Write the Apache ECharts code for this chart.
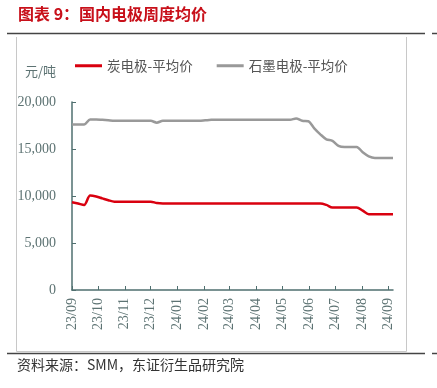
<!DOCTYPE html>
<html>
<head>
<meta charset="utf-8">
<script src="https://cdn.jsdelivr.net/npm/echarts@6/dist/echarts.min.js"></script>
<style>html,body{margin:0;padding:0;background:#fff}#c{width:437px;height:388px}</style>
</head>
<body>
<div id="c"></div>
<script>
// Weekly observation dates (every 7 days from 2023-09-01)
const startDate = '2023-09-01';
const endDate = '2024-09-06';
const seriesNames = ['炭电极-平均价', '石墨电极-平均价'];
// 炭电极 weekly average price (元/吨)
const carbonPrice = [
  9330, 9200, 9050, 10050, 9950, 9750, 9550, 9400, 9400, 9400,
  9400, 9400, 9400, 9400, 9250, 9200, 9200, 9200, 9200, 9200,
  9200, 9200, 9200, 9200, 9200, 9200, 9200, 9200, 9200, 9200,
  9200, 9200, 9200, 9200, 9200, 9200, 9200, 9200, 9200, 9200,
  9200, 9200, 9050, 8780, 8780, 8780, 8780, 8780, 8440, 8070,
  8070, 8070, 8070, 8070
];
// 石墨电极 weekly average price (元/吨)
const graphitePrice = [
  17600, 17600, 17600, 18150, 18150, 18100, 18050, 18000, 18000, 18000,
  18000, 18000, 18000, 18000, 17800, 18000, 18000, 18000, 18000, 18000,
  18000, 18000, 18050, 18100, 18100, 18100, 18100, 18100, 18100, 18100,
  18100, 18100, 18100, 18100, 18100, 18100, 18100, 18250, 18000, 17950,
  17200, 16560, 16030, 15870, 15340, 15220, 15220, 15220, 14650, 14220,
  14050, 14050, 14050, 14050
];
const yTicks = [0, 5000, 10000, 15000, 20000];

function fmt(d){const m=d.getMonth()+1, day=d.getDate();return d.getFullYear()+'-'+(m<10?'0':'')+m+'-'+(day<10?'0':'')+day;}
const days = [];
for (let d = new Date(startDate+'T00:00:00'); fmt(d) <= endDate; d.setDate(d.getDate()+1)) days.push(fmt(d));
const weekDates = [];
for (let i = 0; i < carbonPrice.length; i++) weekDates.push(days[i*7]);

const isMonthStart = (idx, val) => val.slice(8) === '01';
const axisColor = '#4f6f6f';
const labelColor = '#5d7373';

const chart = echarts.init(document.getElementById('c'), null, {renderer:'canvas'});
chart.setOption({
  animation: false,
  textStyle: {fontFamily: '"Liberation Serif", "Noto Sans CJK SC", serif'},
  grid: {left: 72, right: 44, top: 102, bottom: 98},
  legend: {
    left: 70, top: 54, itemWidth: 27, itemHeight: 3, itemGap: 24, icon: 'rect',
    textStyle: {fontFamily: '"Noto Sans CJK SC", sans-serif', fontSize: 13.5, color: '#555'},
    data: seriesNames
  },
  xAxis: {
    type: 'category', data: days, boundaryGap: false,
    axisLine: {lineStyle: {color: axisColor, width: 1.5}},
    axisTick: {show: true, inside: true, length: 4, interval: isMonthStart, lineStyle: {color: axisColor}},
    axisLabel: {interval: isMonthStart, rotate: 90, color: labelColor, fontSize: 14, margin: 8,
      fontFamily: '"Liberation Serif", serif',
      formatter: v => v.slice(2,4) + '/' + v.slice(5,7)},
    splitLine: {show: false}
  },
  yAxis: {
    type: 'value', min: yTicks[0], max: yTicks[yTicks.length-1], interval: 5000,
    axisLine: {show: true, lineStyle: {color: axisColor, width: 1.5}},
    axisTick: {show: true, inside: true, length: 4, lineStyle: {color: axisColor}},
    axisLabel: {color: labelColor, fontSize: 14, margin: 16, fontFamily: '"Liberation Serif", serif',
      formatter: v => v.toLocaleString('en-US')},
    splitLine: {show: false}
  },
  series: [
    {name: seriesNames[0], type: 'line', smooth: 0.3, showSymbol: false,
     lineStyle: {color: '#d9000f', width: 2.5}, itemStyle: {color: '#d9000f'},
     data: weekDates.map((d,i) => [d, carbonPrice[i]])},
    {name: seriesNames[1], type: 'line', smooth: 0.3, showSymbol: false,
     lineStyle: {color: '#999999', width: 2.5}, itemStyle: {color: '#999999'},
     data: weekDates.map((d,i) => [d, graphitePrice[i]])}
  ],
  graphic: [
    {type: 'text', left: 18, top: 6, style: {text: '图表 9：国内电极周度均价', fill: '#c8101a',
      font: 'bold 16px "Noto Sans CJK SC", sans-serif'}},
    {type: 'line', shape: {x1: 7, y1: 33.5, x2: 425, y2: 33.5}, style: {stroke: '#444', lineWidth: 1.5}},
    {type: 'line', shape: {x1: 432, y1: 33.5, x2: 437, y2: 33.5}, style: {stroke: '#444', lineWidth: 1.5}},
    {type: 'line', shape: {x1: 16.5, y1: 37, x2: 16.5, y2: 351.5}, style: {stroke: '#c8c8c8', lineWidth: 1}},
    {type: 'line', shape: {x1: 406.5, y1: 37, x2: 406.5, y2: 351.5}, style: {stroke: '#c8c8c8', lineWidth: 1}},
    {type: 'line', shape: {x1: 16.5, y1: 351.5, x2: 406.5, y2: 351.5}, style: {stroke: '#c8c8c8', lineWidth: 1}},
    {type: 'line', shape: {x1: 7, y1: 353.5, x2: 425, y2: 353.5}, style: {stroke: '#444', lineWidth: 1.5}},
    {type: 'line', shape: {x1: 432, y1: 353.5, x2: 437, y2: 353.5}, style: {stroke: '#444', lineWidth: 1.5}},
    {type: 'text', left: 25, top: 65, style: {text: '元/吨', fill: labelColor,
      font: '13px "Noto Sans CJK SC", sans-serif'}},
    {type: 'text', left: 17, top: 358, style: {text: '资料来源：SMM，东证衍生品研究院', fill: '#333',
      font: '14px "Noto Sans CJK SC", sans-serif'}}
  ]
});
</script>
</body>
</html>
